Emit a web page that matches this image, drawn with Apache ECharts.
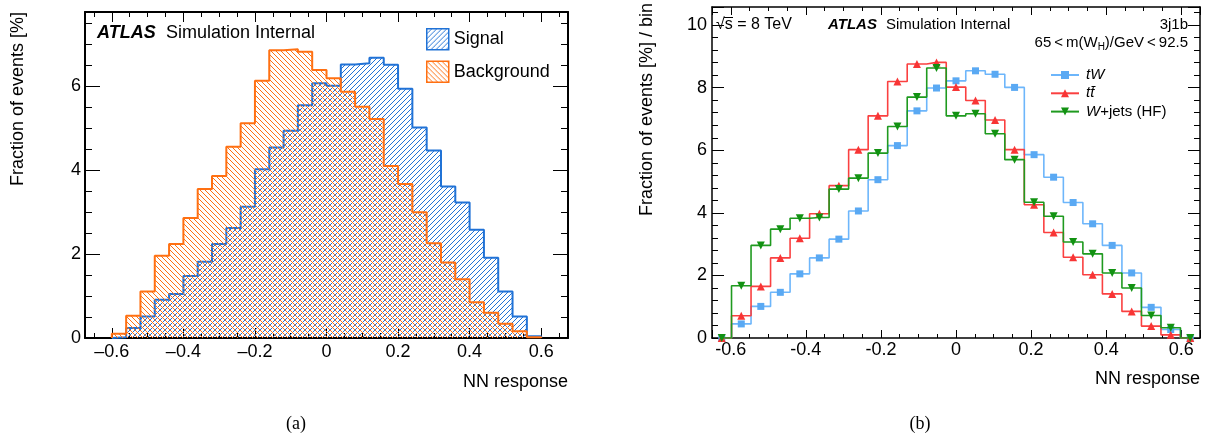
<!DOCTYPE html>
<html>
<head>
<meta charset="utf-8">
<script src="https://cdn.jsdelivr.net/npm/echarts@6/dist/echarts.min.js"></script>
<style>
html, body { margin: 0; padding: 0; background: #fff; }
#chart { width: 1211px; height: 439px; }
</style>
</head>
<body>
<div id="chart"></div>
<script>
// ---- (a) NN response, signal vs background: bin edges (width 0.04) and bin contents [%]
const edgesA = [-0.6, -0.56, -0.52, -0.48, -0.44, -0.4, -0.36, -0.32, -0.28, -0.24, -0.2, -0.16, -0.12, -0.08, -0.04,
  0, 0.04, 0.08, 0.12, 0.16, 0.2, 0.24, 0.28, 0.32, 0.36, 0.4, 0.44, 0.48, 0.52, 0.56, 0.6];
const signal = [0.02, 0.24, 0.51, 0.91, 1.05, 1.48, 1.82, 2.24, 2.62, 3.13, 4.02, 4.54, 4.94, 5.55, 6.07,
  6.01, 6.52, 6.55, 6.68, 6.51, 5.94, 5.02, 4.47, 3.61, 3.23, 2.58, 1.91, 1.11, 0.51, 0.04];
const background = [0.10, 0.53, 1.11, 1.96, 2.24, 2.86, 3.55, 3.86, 4.56, 5.12, 6.13, 6.86, 6.88, 6.82, 6.39,
  6.19, 5.87, 5.51, 5.22, 4.10, 3.67, 3.00, 2.26, 1.80, 1.40, 0.85, 0.60, 0.34, 0.16, 0.02];

// ---- (b) NN response per process: bin centres (width 0.052) and fractions [%] / bin
const centersB = [-0.624, -0.572, -0.52, -0.468, -0.416, -0.364, -0.312, -0.26, -0.208, -0.156, -0.104, -0.052,
  0, 0.052, 0.104, 0.156, 0.208, 0.26, 0.312, 0.364, 0.416, 0.468, 0.52, 0.572, 0.624];
const tW    = [0, 0.45, 1.01, 1.46, 2.05, 2.56, 3.16, 4.06, 5.06, 6.15, 7.26, 7.99,
  8.22, 8.54, 8.43, 8.01, 5.86, 5.14, 4.33, 3.65, 2.96, 2.08, 0.98, 0.27, 0];
const ttbar = [0, 0.71, 1.65, 2.56, 3.19, 3.97, 4.87, 6.02, 7.10, 8.20, 8.76, 8.81,
  8.02, 7.59, 6.97, 6.02, 4.26, 3.37, 2.58, 2.02, 1.41, 0.85, 0.38, 0.10, 0];
const wjets = [0, 1.67, 2.96, 3.48, 3.83, 3.85, 4.76, 5.11, 5.91, 6.76, 7.70, 8.63,
  7.10, 7.17, 6.53, 5.70, 4.34, 3.89, 3.07, 2.69, 2.08, 1.60, 0.72, 0.33, 0];

const FONT = 'Liberation Sans, Arial, Helvetica, sans-serif';
const BLUE = '#2072d6';
const ORANGE = '#ff7012';

// single-pixel diagonal hatch tile on a transparent background
function hatch(color, dir) {
  const p = 5;
  const c = document.createElement('canvas');
  c.width = p; c.height = p;
  const g = c.getContext('2d');
  g.clearRect(0, 0, p, p);
  g.fillStyle = color;
  for (let i = 0; i < p; i++) {
    g.fillRect(i, dir === '/' ? p - 1 - i : i, 1, 1);
  }
  return { image: c, repeat: 'repeat' };
}
const hatchBlue = hatch(BLUE, '/');
const hatchOrange = hatch(ORANGE, '\\');

// outline points of a filled step histogram
function histPoints(edges, vals) {
  const pts = [[edges[0], 0]];
  vals.forEach((v, i) => pts.push([edges[i], v]));
  pts.push([edges[edges.length - 1], 0]);
  return pts;
}

function isTick(v, step) {
  return Math.abs(v / step - Math.round(v / step)) < 1e-6;
}

function xAxis(grid, min, max, pos, opts) {
  return {
    type: 'value', gridIndex: grid, position: pos, min: min, max: max,
    minInterval: 0.2, maxInterval: 0.2,
    axisLine: { show: true, onZero: false, lineStyle: { color: '#000', width: opts.lw } },
    axisTick: { show: true, inside: true, length: opts.major, lineStyle: { color: '#000', width: 1 } },
    minorTick: { show: true, splitNumber: 4, length: opts.minor, lineStyle: { color: '#000', width: 1 } },
    splitLine: { show: false }, minorSplitLine: { show: false },
    axisLabel: {
      show: pos === 'bottom', margin: opts.margin, fontFamily: FONT, fontSize: 18, color: '#000',
      formatter: v => {
        if (!isTick(v, 0.2)) return '';
        const s = String(Math.round(v * 10) / 10);
        return opts.dash ? s.replace('-', '\u2013') : s;
      }
    }
  };
}

function yAxis(grid, max, pos, opts) {
  return {
    type: 'value', gridIndex: grid, position: pos, min: 0, max: max,
    minInterval: 2, maxInterval: 2,
    axisLine: { show: true, onZero: false, lineStyle: { color: '#000', width: opts.lw } },
    axisTick: { show: true, inside: true, length: opts.major, lineStyle: { color: '#000', width: 1 } },
    minorTick: { show: true, splitNumber: opts.split, length: opts.minor, lineStyle: { color: '#000', width: 1 } },
    splitLine: { show: false }, minorSplitLine: { show: false },
    axisLabel: {
      show: pos === 'left', margin: opts.margin, fontFamily: FONT, fontSize: 18, color: '#000',
      formatter: v => isTick(v, 2) ? String(Math.round(v)) : ''
    }
  };
}

const axA = { lw: 2, major: 10, minor: 5, margin: 5, dash: true };
const axAy = { lw: 2, major: 15, minor: 7, margin: 4, split: 4 };
const axB = { lw: 1.5, major: 8, minor: 4, margin: 3, dash: false };
const axBy = { lw: 1.5, major: 12, minor: 6, margin: 5, split: 5 };

const txt = (x, y, text, extra) => ({
  type: 'text', x: x, y: y, silent: true,
  style: Object.assign({ text: text, fontFamily: FONT, fontSize: 18, fill: '#000', verticalAlign: 'middle' }, extra || {})
});

const option = {
  animation: false,
  grid: [
    { left: 85, top: 12, right: 643, bottom: 101, containLabel: false },
    { left: 712, top: 7, right: 11, bottom: 101, containLabel: false }
  ],
  xAxis: [
    xAxis(0, -0.675, 0.675, 'bottom', axA),
    xAxis(0, -0.675, 0.675, 'top', axA),
    xAxis(1, -0.65, 0.65, 'bottom', axB),
    xAxis(1, -0.65, 0.65, 'top', axB)
  ],
  yAxis: [
    yAxis(0, 7.77, 'left', axAy),
    yAxis(0, 7.77, 'right', axAy),
    yAxis(1, 10.58, 'left', axBy),
    yAxis(1, 10.58, 'right', axBy)
  ],
  legend: [
    {
      left: 421, top: 23, orient: 'vertical', selectedMode: false,
      itemWidth: 22, itemHeight: 21, itemGap: 10,
      textStyle: { fontFamily: FONT, fontSize: 18, color: '#000' },
      data: [
        { name: 'Signal', icon: 'rect', itemStyle: { color: hatchBlue, borderColor: BLUE, borderWidth: 1.5 } },
        { name: 'Background', icon: 'rect', itemStyle: { color: hatchOrange, borderColor: ORANGE, borderWidth: 1.5 } }
      ]
    },
    {
      left: 1045, top: 61, orient: 'vertical', selectedMode: false,
      itemWidth: 28, itemHeight: 10, itemGap: 0.3,
      textStyle: {
        fontFamily: FONT, fontSize: 15, lineHeight: 18, color: '#000', padding: [0, 0, 0, 2],
        rich: { i: { fontFamily: FONT, fontSize: 15, fontStyle: 'italic', color: '#000' } }
      },
      formatter: name => name === 'W+jets (HF)' ? '{i|W}+jets (HF)' : '{i|' + name + '}',
      data: ['tW', 'tt\u0304', 'W+jets (HF)']
    }
  ],
  series: [
    {
      type: 'line', name: 'Signal', xAxisIndex: 0, yAxisIndex: 0, step: 'end',
      data: histPoints(edgesA, signal), symbol: 'none', showSymbol: false,
      lineStyle: { color: BLUE, width: 2 }, itemStyle: { color: BLUE },
      areaStyle: { color: hatchBlue, opacity: 1 }, z: 2
    },
    {
      type: 'line', name: 'Background', xAxisIndex: 0, yAxisIndex: 0, step: 'end',
      data: histPoints(edgesA, background), symbol: 'none', showSymbol: false,
      lineStyle: { color: ORANGE, width: 2 }, itemStyle: { color: ORANGE },
      areaStyle: { color: hatchOrange, opacity: 1 }, z: 3
    },
    {
      type: 'line', name: 'tW', xAxisIndex: 2, yAxisIndex: 2, step: 'middle',
      data: centersB.map((x, i) => [x, tW[i]]), symbol: 'rect', symbolSize: 7, showAllSymbol: true,
      lineStyle: { color: '#6db6fb', width: 1.6 }, itemStyle: { color: '#5aa9f3' }, z: 2
    },
    {
      type: 'line', name: 'tt\u0304', xAxisIndex: 2, yAxisIndex: 2, step: 'middle',
      data: centersB.map((x, i) => [x, ttbar[i]]), symbol: 'triangle', symbolSize: 8, showAllSymbol: true,
      lineStyle: { color: '#fa4040', width: 1.6 }, itemStyle: { color: '#f83535' }, z: 3
    },
    {
      type: 'line', name: 'W+jets (HF)', xAxisIndex: 2, yAxisIndex: 2, step: 'middle',
      data: centersB.map((x, i) => [x, wjets[i]]), symbol: 'triangle', symbolRotate: 180, symbolSize: 8, showAllSymbol: true,
      lineStyle: { color: '#1f9a1f', width: 1.6 }, itemStyle: { color: '#129212' }, z: 4
    }
  ],
  graphic: [
    // (a) labels
    txt(97, 33.5, 'ATLAS', { fontWeight: 'bold', fontStyle: 'italic' }),
    txt(166, 33.5, 'Simulation Internal'),
    txt(568, 382, 'NN response', { align: 'right' }),
    { type: 'text', x: 18, y: 12, rotation: Math.PI / 2, silent: true,
      style: { text: 'Fraction of events [%]', fontFamily: FONT, fontSize: 18, fill: '#000', align: 'right', verticalAlign: 'middle' } },
    txt(296, 424, '(a)', { fontFamily: 'Liberation Serif, Times New Roman, serif', align: 'center' }),
    // (b) labels
    txt(716, 25, '\u221As = 8 TeV', { fontSize: 16 }),
    { type: 'line', silent: true, shape: { x1: 724, y1: 17.5, x2: 733, y2: 17.5 }, style: { stroke: '#000', lineWidth: 1 } },
    txt(828, 25, 'ATLAS', { fontSize: 15, fontWeight: 'bold', fontStyle: 'italic' }),
    txt(886, 25, 'Simulation Internal', { fontSize: 15 }),
    txt(1188, 25, '3j1b', { fontSize: 15, align: 'right' }),
    { type: 'text', x: 1188, y: 43, silent: true,
      style: {
        text: '{n|65\u2009<\u2009m(W}{s|H}{n|)/GeV\u2009<\u200992.5}', align: 'right', verticalAlign: 'middle',
        rich: {
          n: { fontFamily: FONT, fontSize: 15, lineHeight: 18, fill: '#000' },
          s: { fontFamily: FONT, fontSize: 10, lineHeight: 8, fill: '#000', verticalAlign: 'bottom' }
        }
      } },
    txt(1200, 379, 'NN response', { align: 'right' }),
    { type: 'text', x: 647, y: 3, rotation: Math.PI / 2, silent: true,
      style: { text: 'Fraction of events [%] / bin', fontFamily: FONT, fontSize: 18, fill: '#000', align: 'right', verticalAlign: 'middle' } },
    txt(920, 424, '(b)', { fontFamily: 'Liberation Serif, Times New Roman, serif', align: 'center' })
  ]
};

const chart = echarts.init(document.getElementById('chart'), null, { renderer: 'canvas' });
chart.setOption(option);
</script>
</body>
</html>
